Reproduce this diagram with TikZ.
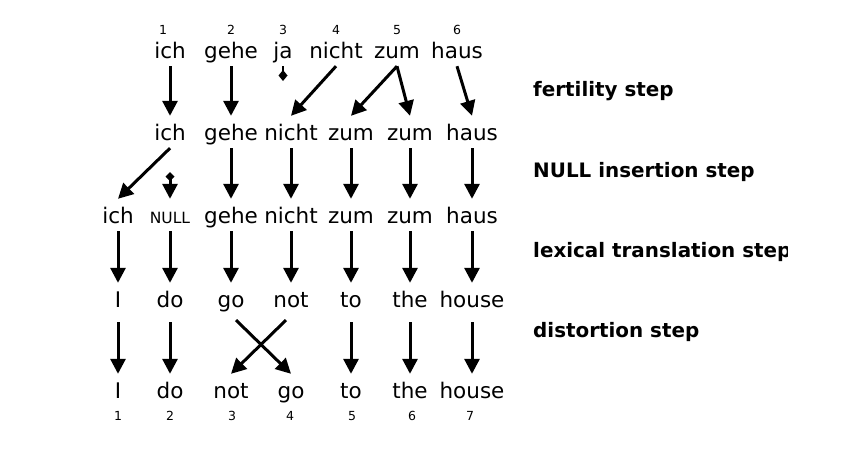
\documentclass[tikz,border=0pt]{standalone}
\usepackage{fontspec}
\setmainfont{DejaVu Sans}
\usetikzlibrary{arrows.meta}
\tikzset{
  word/.style={anchor=base, font=\fontsize{21.5}{23}\selectfont, text height=18pt, text depth=2pt, inner ysep=6pt, inner xsep=0pt},
  nullw/.style={word, font=\fontsize{15.5}{16}\selectfont},
  num/.style={anchor=base, font=\fontsize{12.5}{13}\selectfont, inner sep=0pt},
  lbl/.style={anchor=base west, font=\bfseries\fontsize{19.9}{21}\selectfont, inner sep=0pt},
  arr/.style={line width=3pt, -{Triangle[width=15pt,length=15pt]}},
  stub/.style={line width=2.5pt, -{Turned Square[width=9pt,length=11pt]}},
  nullarr/.style={line width=3pt, {Turned Square[width=9pt,length=9pt]}-{Triangle[width=15pt,length=15pt]}}
}
\begin{document}
\begin{tikzpicture}[x=1pt,y=-1pt]
\fill[white] (0,0) rectangle (865,450);
\useasboundingbox (0,0) rectangle (865,450);
% top numbers
\node[num] (n1) at (163,34) {1};
\node[num] (n2) at (231,34) {2};
\node[num] (n3) at (283,34) {3};
\node[num] (n4) at (336,34) {4};
\node[num] (n5) at (397,34) {5};
\node[num] (n6) at (457,34) {6};
% row 1
\node[word] (a1) at (170,58) {ich};
\node[word] (a2) at (231,58) {gehe};
\node[word] (a3) at (283,58) {ja};
\node[word] (a4) at (336,58) {nicht};
\node[word] (a5) at (397,58) {zum};
\node[word] (a6) at (457,58) {haus};
% row 2
\node[word] (b1) at (170,140) {ich};
\node[word] (b2) at (231,140) {gehe};
\node[word] (b3) at (291,140) {nicht};
\node[word] (b4) at (351,140) {zum};
\node[word] (b5) at (410,140) {zum};
\node[word] (b6) at (472,140) {haus};
% row 3
\node[word] (c1) at (118,223) {ich};
\node[nullw] (c2) at (170,223) {NULL};
\node[word] (c3) at (231,223) {gehe};
\node[word] (c4) at (291,223) {nicht};
\node[word] (c5) at (351,223) {zum};
\node[word] (c6) at (410,223) {zum};
\node[word] (c7) at (472,223) {haus};
% row 4
\node[word] (d1) at (118,307) {I};
\node[word] (d2) at (170,307) {do};
\node[word] (d3) at (231,307) {go};
\node[word] (d4) at (291,307) {not};
\node[word] (d5) at (351,307) {to};
\node[word] (d6) at (410,307) {the};
\node[word] (d7) at (472,307) {house};
% row 5
\node[word] (e1) at (118,398) {I};
\node[word] (e2) at (170,398) {do};
\node[word] (e3) at (231,398) {not};
\node[word] (e4) at (291,398) {go};
\node[word] (e5) at (351,398) {to};
\node[word] (e6) at (410,398) {the};
\node[word] (e7) at (472,398) {house};
% bottom numbers
\node[num] (m1) at (118,420) {1};
\node[num] (m2) at (170,420) {2};
\node[num] (m3) at (232,420) {3};
\node[num] (m4) at (290,420) {4};
\node[num] (m5) at (352,420) {5};
\node[num] (m6) at (412,420) {6};
\node[num] (m7) at (470,420) {7};
% labels (clipped at right)
\begin{scope}
\clip (0,0) rectangle (787,450);
\node[lbl] (l1) at (533,96) {fertility step};
\node[lbl] (l2) at (533,177) {NULL insertion step};
\node[lbl] (l3) at (533,257) {lexical translation step};
\node[lbl] (l4) at (533,337) {distortion step};
\end{scope}
% fertility step
\draw[arr] (a1.south) -- (b1.north);
\draw[arr] (a2.south) -- (b2.north);
\coordinate (jaend) at (283,81);
\draw[stub] (a3.south) -- (jaend);
\draw[arr] (a4.south) -- (b3.north);
\draw[arr] (a5.south) -- (b4.north);
\draw[arr] (a5.south) -- (b5.north);
\draw[arr] (a6.south) -- (b6.north);
% NULL insertion
\draw[arr] (b1.south) -- (c1.north);
\coordinate (nullstart) at (170,172);
\draw[nullarr] (nullstart) -- (c2.north);
\draw[arr] (b2.south) -- (c3.north);
\draw[arr] (b3.south) -- (c4.north);
\draw[arr] (b4.south) -- (c5.north);
\draw[arr] (b5.south) -- (c6.north);
\draw[arr] (b6.south) -- (c7.north);
% lexical translation
\draw[arr] (c1.south) -- (d1.north);
\draw[arr] (c2.south) -- (d2.north);
\draw[arr] (c3.south) -- (d3.north);
\draw[arr] (c4.south) -- (d4.north);
\draw[arr] (c5.south) -- (d5.north);
\draw[arr] (c6.south) -- (d6.north);
\draw[arr] (c7.south) -- (d7.north);
% distortion
\draw[arr, shorten <=7pt] (d1.south) -- (e1.north);
\draw[arr, shorten <=7pt] (d2.south) -- (e2.north);
\draw[arr, shorten <=7pt] (d3.south) -- (e4.north);
\draw[arr, shorten <=7pt] (d4.south) -- (e3.north);
\draw[arr, shorten <=7pt] (d5.south) -- (e5.north);
\draw[arr, shorten <=7pt] (d6.south) -- (e6.north);
\draw[arr, shorten <=7pt] (d7.south) -- (e7.north);
\end{tikzpicture}
\end{document}
